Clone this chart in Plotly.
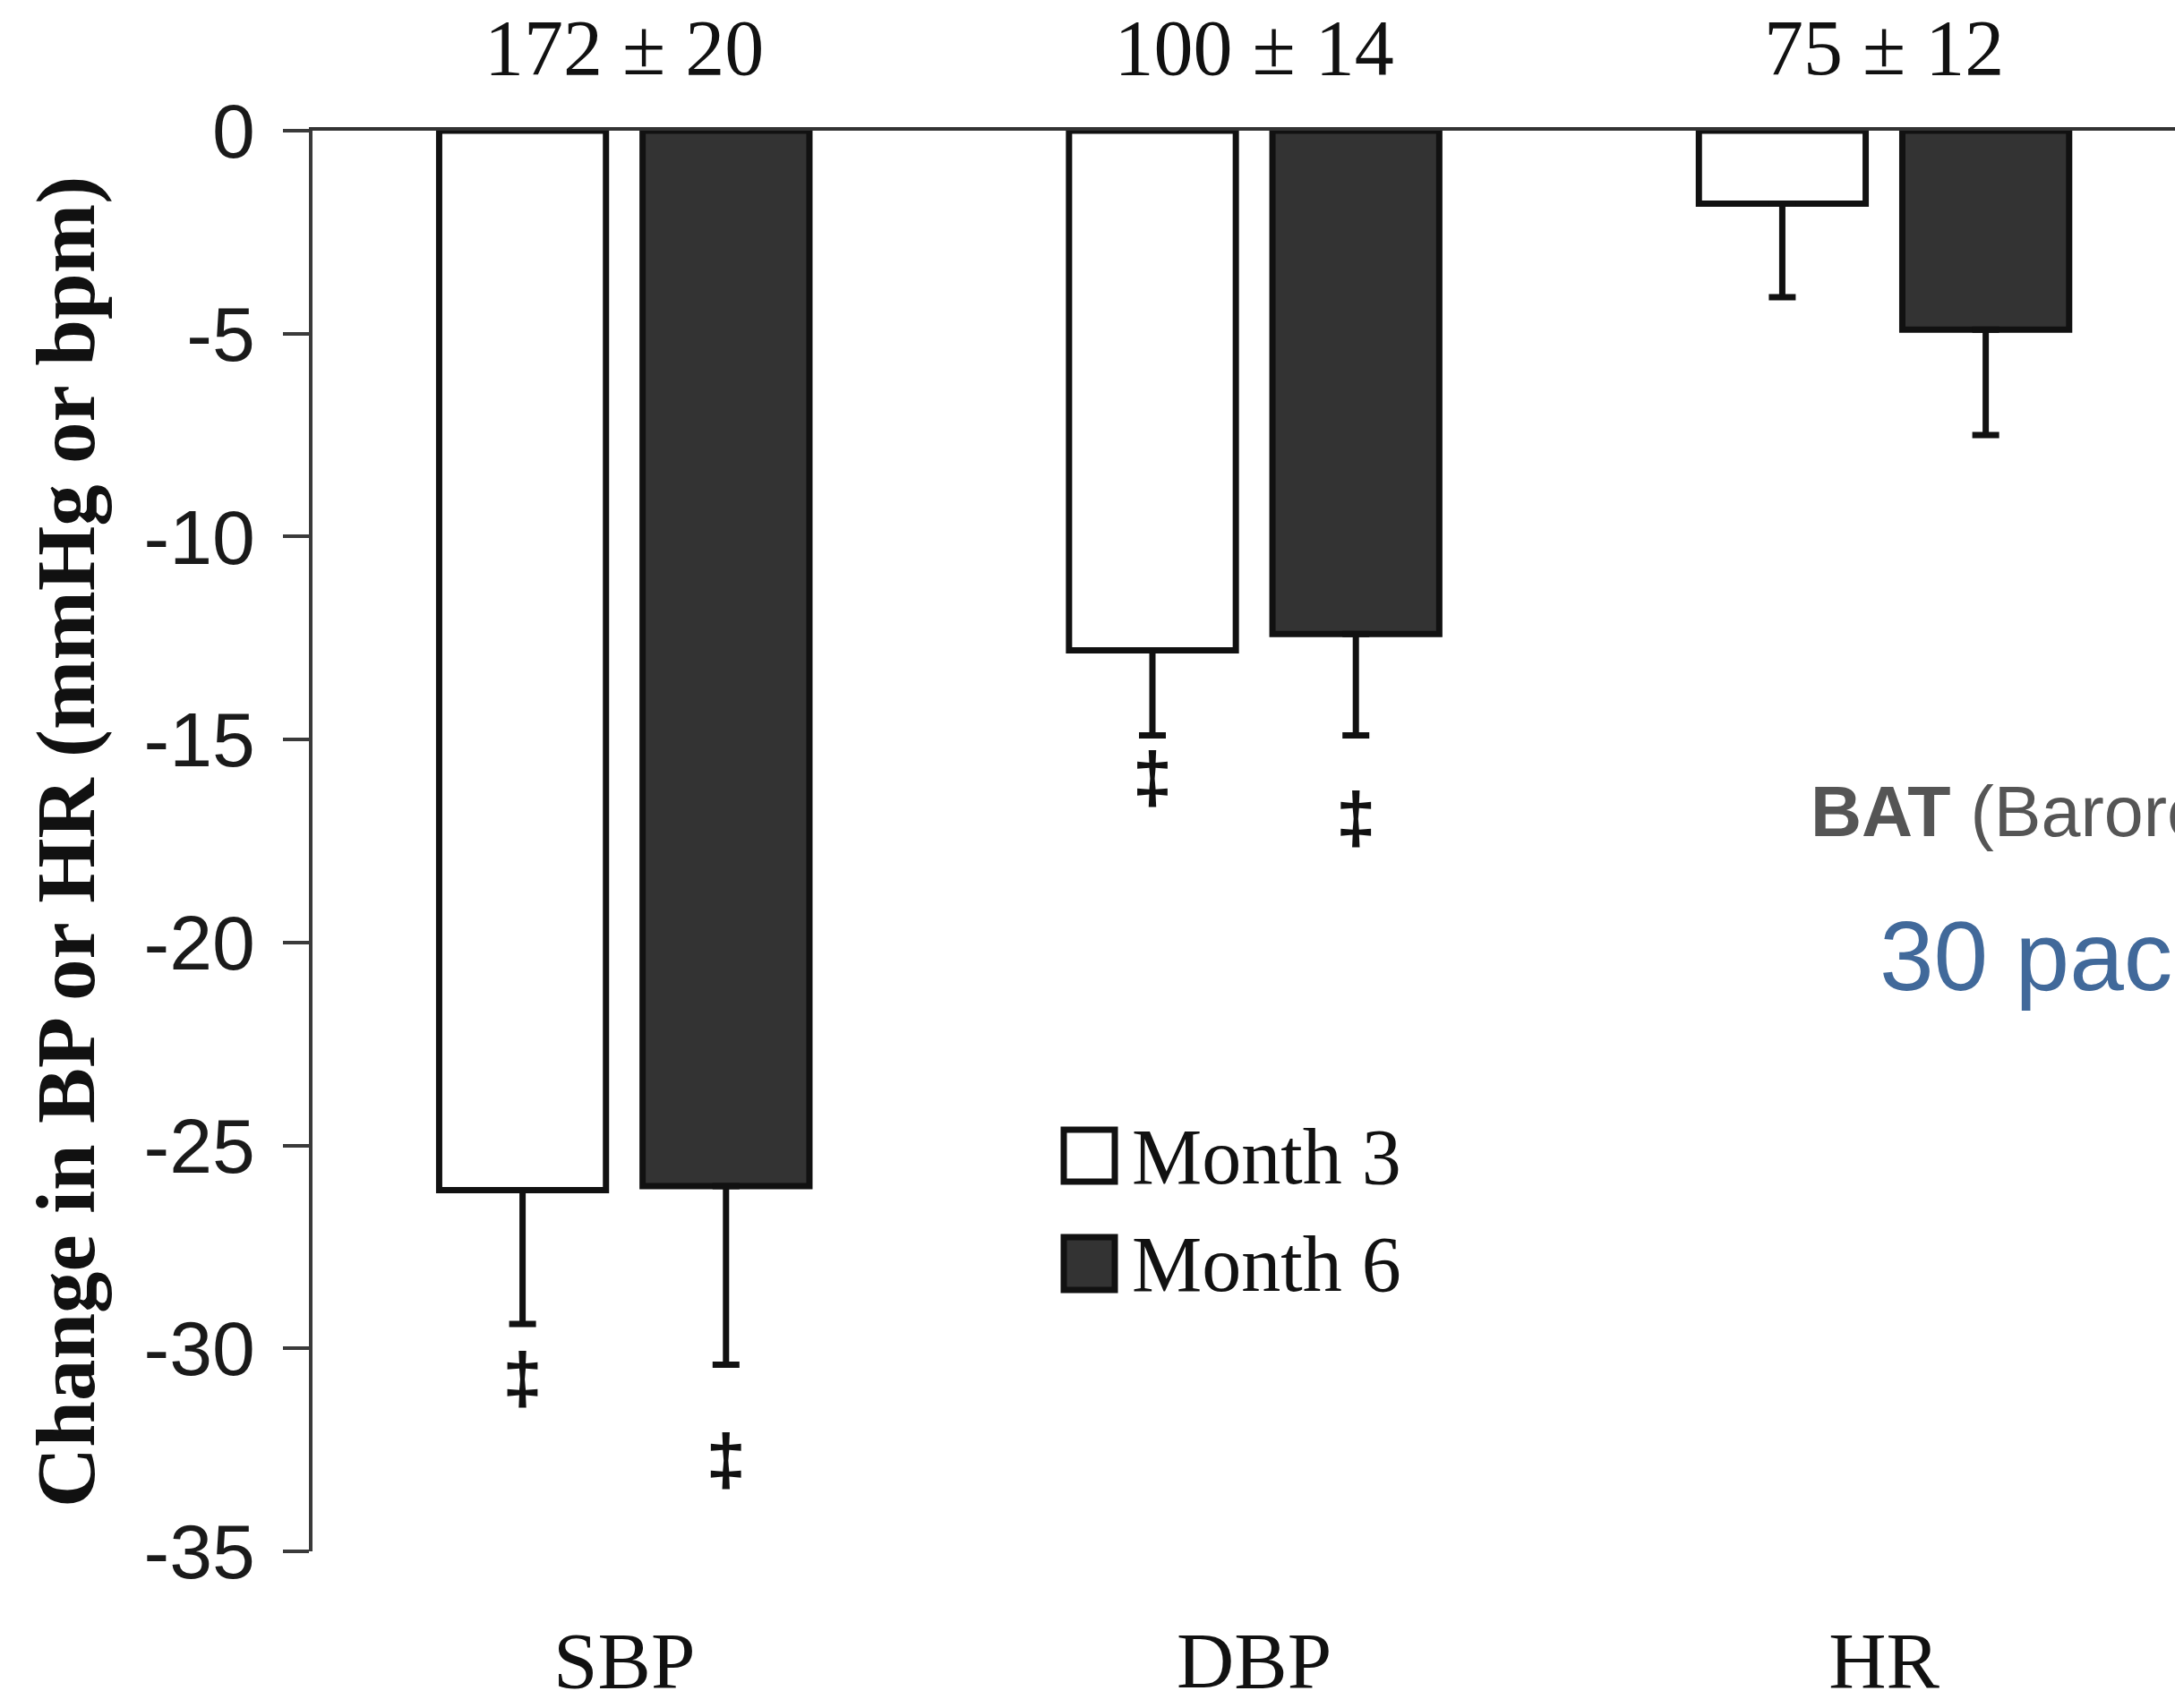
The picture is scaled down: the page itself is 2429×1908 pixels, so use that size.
import plotly.graph_objects as go

# ---------------- data ----------------
categories = ["SBP", "DBP", "HR"]
baseline_labels = ["172 ± 20", "100 ± 14", "75 ± 12"]
series_names = ["Month 3", "Month 6"]
month3_change = [-26.1, -12.8, -1.8]
month3_err = [3.3, 2.1, 2.3]
month6_change = [-26.0, -12.4, -4.9]
month6_err = [4.4, 2.5, 2.6]
sig_mark = "‡"
month3_sig_y = [-30.9, -16.1, None]
month6_sig_y = [-32.9, -17.1, None]
y_ticks = [0, -5, -10, -15, -20, -25, -30, -35]
y_title = "Change in BP or HR (mmHg or bpm)"
side_title_bold = "BAT"
side_title_rest = " (Baroreflex Activation Therapy)"
side_subtitle = "30 pacientes"

# ---------------- style ----------------
W, H = 2429, 1908
SERIF = "Liberation Serif, Times New Roman, serif"
SANS = "Liberation Sans, Arial, Helvetica, sans-serif"
fills = ["#ffffff", "#333333"]
LINE = "#111111"
AX = "#3a3a3a"

fig = go.Figure()

for name, vals, errs, fill, grp in [
    (series_names[0], month3_change, month3_err, fills[0], "m3"),
    (series_names[1], month6_change, month6_err, fills[1], "m6"),
]:
    fig.add_trace(go.Bar(
        x=categories, y=vals, name=name, offsetgroup=grp,
        marker=dict(color=fill, line=dict(color=LINE, width=7)),
        error_y=dict(type="data", symmetric=False, array=[0] * len(errs),
                     arrayminus=errs, color=LINE, thickness=7, width=15),
        showlegend=False, hoverinfo="skip",
    ))

for sig_y, grp in [(month3_sig_y, "m3"), (month6_sig_y, "m6")]:
    fig.add_trace(go.Scatter(
        x=categories, y=sig_y, mode="text", offsetgroup=grp,
        text=["<b>" + sig_mark + "</b>" if v is not None else "" for v in sig_y],
        textposition="middle center",
        textfont=dict(family=SANS, size=80, color=LINE),
        showlegend=False, hoverinfo="skip", cliponaxis=False,
    ))

# invisible trace to carry the top category axis
fig.add_trace(go.Scatter(x=categories, y=[None] * len(categories), xaxis="x2",
                         mode="markers", showlegend=False, hoverinfo="skip"))

L, R, T, B = 349, 0, 146, 175
pw = W - L - R
ph = H - T - B
xrange = [-0.495, 2.462]

fig.update_layout(
    width=W, height=H,
    margin=dict(l=L, r=R, t=T, b=B, pad=0),
    paper_bgcolor="white", plot_bgcolor="white",
    barmode="group", bargap=0.354, bargroupgap=0.18,
    scattermode="group",
    showlegend=False,
    xaxis=dict(type="category", categoryorder="array", categoryarray=categories,
               range=xrange, showline=False, ticks="", showgrid=False,
               zeroline=False, automargin=False,
               tickfont=dict(family=SERIF, size=89, color="#111111"),
               ticklabelstandoff=62),
    xaxis2=dict(type="category", categoryorder="array", categoryarray=categories,
                overlaying="x", side="top", anchor="y", range=xrange,
                showline=True, linecolor="#333333", linewidth=4, ticks="",
                tickmode="array", tickvals=categories, ticktext=baseline_labels,
                showgrid=False, zeroline=False, automargin=False,
                tickfont=dict(family=SERIF, size=88, color="#111111"),
                ticklabelstandoff=24),
    yaxis=dict(range=[-35, 0], tickmode="array", tickvals=y_ticks,
               ticktext=[str(v) for v in y_ticks],
               showline=True, linecolor=AX, linewidth=4,
               ticks="outside", ticklen=29, tickwidth=4, tickcolor=AX,
               showgrid=False, zeroline=False, automargin=False,
               tickfont=dict(family=SANS, size=86, color="#1a1a1a"),
               ticklabelstandoff=14),
)

def px_x(px):
    return (px - L) / pw

def px_y(py):
    return (H - B - py) / ph

annotations = [
    dict(text="<b>" + y_title + "</b>", textangle=-90, xref="paper", yref="paper",
         x=px_x(73), y=px_y(941), xanchor="center", yanchor="middle",
         showarrow=False, font=dict(family=SERIF, size=93, color="#111111")),
    dict(text="<b>" + side_title_bold + "</b>" + side_title_rest,
         xref="paper", yref="paper", x=px_x(2020), y=px_y(907),
         xanchor="left", yanchor="middle", showarrow=False,
         font=dict(family=SANS, size=79, color="#555555")),
    dict(text=side_subtitle, xref="paper", yref="paper", x=px_x(2097), y=px_y(1068),
         xanchor="left", yanchor="middle", showarrow=False,
         font=dict(family=SANS, size=109, color="#41699a")),
]

# manual legend (large swatches)
shapes = []
legend_rows = [(1262, 1320, 1292), (1382, 1441, 1412)]
for name, fill, (top, bot, mid) in zip(series_names, fills, legend_rows):
    shapes.append(dict(type="rect", xref="paper", yref="paper",
                       x0=px_x(1188), x1=px_x(1245), y0=px_y(bot), y1=px_y(top),
                       fillcolor=fill, line=dict(color=LINE, width=7)))
    annotations.append(dict(text=name, xref="paper", yref="paper",
                            x=px_x(1262), y=px_y(mid), xanchor="left",
                            yanchor="middle", showarrow=False,
                            font=dict(family=SERIF, size=88, color="#111111")))

fig.update_layout(annotations=annotations, shapes=shapes)

fig.write_html("out.html")
